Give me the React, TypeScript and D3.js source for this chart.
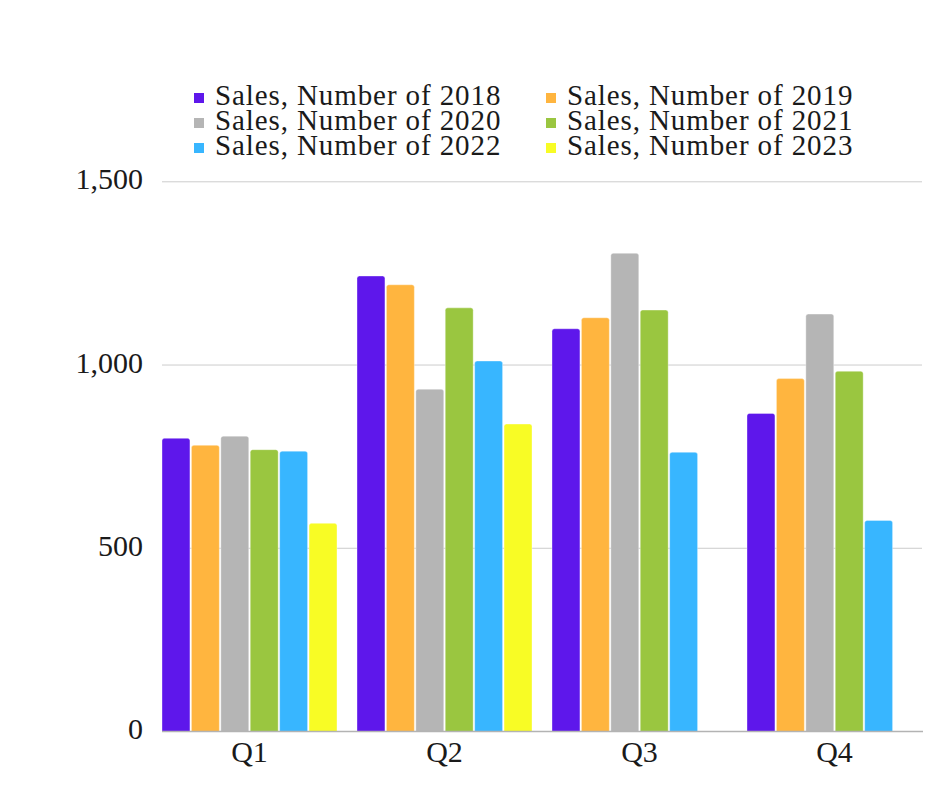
import React from "react";
import * as d3 from "d3";

const quarters = ["Q1", "Q2", "Q3", "Q4"];
const years = ["2018", "2019", "2020", "2021", "2022", "2023"];
const sales2018 = [800, 1243, 1099, 868];
const sales2019 = [781, 1219, 1129, 963];
const sales2020 = [806, 934, 1305, 1139];
const sales2021 = [769, 1156, 1150, 983];
const sales2022 = [765, 1011, 762, 576];
const sales2023: (number | null)[] = [568, 839, null, null];
const seriesValues = [sales2018, sales2019, sales2020, sales2021, sales2022, sales2023];
const seriesColors = ["#5E17EB", "#FFB53F", "#B5B5B5", "#9AC640", "#38B6FF", "#F8FC25"];
const yTicks = [0, 500, 1000, 1500];

const W = 940;
const H = 788;
const FONT = "'Liberation Serif', 'DejaVu Serif', serif";

function topRoundedRect(x: number, y: number, w: number, h: number, r: number) {
  const rr = Math.min(r, h, w / 2);
  return `M${x},${y + h}V${y + rr}Q${x},${y} ${x + rr},${y}H${x + w - rr}Q${x + w},${y} ${x + w},${y + rr}V${y + h}Z`;
}

export default function App() {
  const left = 162;
  const right = 922;
  const y0 = 731.5;
  const yTop = 181.8;

  const x = d3.scaleBand<string>().domain(quarters).range([left, right]).paddingInner(0.1026).paddingOuter(0);
  const x1 = d3.scaleBand<string>().domain(years).range([0, x.bandwidth()]).paddingInner(0.05).paddingOuter(0);
  const y = d3.scaleLinear().domain([0, 1500]).range([y0, yTop]);

  const legendRows = [0, 1, 2];
  const legendCols = [194, 546];
  const legendBaselines = [105, 130, 155];

  return (
    <svg width={W} height={H} style={{ position: "absolute", left: 0, top: 0, background: "#fff" }}>
      <rect x={0} y={0} width={W} height={H} fill="#fff" />
      {yTicks.filter((t) => t !== 0).map((t) => (
        <line key={t} x1={left} x2={right} y1={y(t)} y2={y(t)} stroke="#cccccc" strokeWidth={1} />
      ))}
      {yTicks.map((t) => (
        <text
          key={"l" + t}
          x={143}
          y={y(t) - 3}
          textAnchor="end"
          dominantBaseline="central"
          fontFamily={FONT}
          fontSize={30}
          fill="#1a1a1a"
        >
          {d3.format(",")(t)}
        </text>
      ))}
      {quarters.map((q, qi) => (
        <g key={q} transform={`translate(${x(q)},0)`}>
          {years.map((yr, si) => {
            const v = seriesValues[si][qi];
            if (v == null) return null;
            const bx = x1(yr) as number;
            const by = y(v);
            return (
              <path
                key={yr}
                d={topRoundedRect(bx, by, x1.bandwidth(), y0 - by, 2.5)}
                fill={seriesColors[si]}
                stroke="#ffffff"
                strokeOpacity={0.6}
                strokeWidth={0.6}
              />
            );
          })}
        </g>
      ))}
      <line x1={left} x2={right + 1} y1={y0} y2={y0} stroke="#b3b3b3" strokeWidth={1.6} />
      {quarters.map((q) => (
        <text
          key={"x" + q}
          x={(x(q) as number) + x.bandwidth() / 2}
          y={762}
          textAnchor="middle"
          fontFamily={FONT}
          fontSize={30}
          fill="#1a1a1a"
        >
          {q}
        </text>
      ))}
      {legendRows.map((r) =>
        legendCols.map((cx, c) => {
          const si = r * 2 + c;
          const base = legendBaselines[r];
          return (
            <g key={"lg" + si}>
              <rect x={cx} y={base - 12} width={10} height={10} fill={seriesColors[si]} />
              <text
                x={cx + 21}
                y={base}
                fontFamily={FONT}
                fontSize={29}
                letterSpacing={0.9}
                fill="#1a1a1a"
              >
                {`Sales, Number of ${years[si]}`}
              </text>
            </g>
          );
        })
      )}
    </svg>
  );
}
